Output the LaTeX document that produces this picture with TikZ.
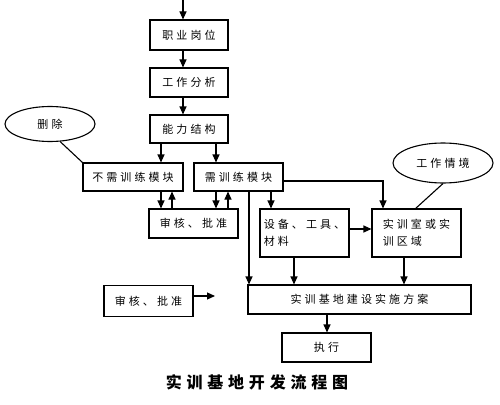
\documentclass[tikz,border=0pt]{standalone}
\usepackage{fontspec}
\newfontfamily\cjk[LetterSpace=28]{Noto Sans CJK SC}
\newfontfamily\cjkcap[LetterSpace=30]{Noto Sans CJK SC}
\usetikzlibrary{arrows.meta,shapes.geometric}
\begin{document}
\begin{tikzpicture}[x=1pt,y=-1pt,
  line width=1.1pt,
  box/.style={draw,rectangle,inner sep=0pt,font=\cjk\fontsize{11}{17}\selectfont,align=left},
  oval/.style={draw,ellipse,inner sep=0pt,font=\cjk\fontsize{11}{14}\selectfont},
  arr/.style={-{Triangle[length=8pt,width=7pt]}},
  ]
\useasboundingbox (0,0) rectangle (500,404);
% boxes
\node[box,minimum width=78pt,minimum height=30pt] (job) at (189,35) {职业岗位};
\node[box,minimum width=78pt,minimum height=29pt] (work) at (189,82.5) {工作分析};
\node[box,minimum width=78pt,minimum height=28pt] (abil) at (189,129) {能力结构};
\node[box,minimum width=100pt,minimum height=28pt] (noneed) at (133,177) {不需训练模块};
\node[box,minimum width=89pt,minimum height=28pt] (need) at (238.5,177) {需训练模块};
\node[box,minimum width=89pt,minimum height=29pt] (appr1) at (193.5,223.5) {审核、批准};
\node[box,minimum width=89pt,minimum height=48pt] (equip) at (304.5,233) {设备、工具、\\材料};
\node[box,minimum width=89pt,minimum height=48pt] (room) at (416.5,233) {实训室或实\\训区域};
\node[box,minimum width=223pt,minimum height=29pt] (plan) at (359.5,299.5) {实训基地建设实施方案};
\node[box,minimum width=89pt,minimum height=29pt] (exec) at (326.5,347.5) {执行};
\node[box,minimum width=89pt,minimum height=31pt] (appr2) at (148.5,301) {审核、批准};
\node[oval,minimum width=90pt,minimum height=35pt] (del) at (50,124) {删除};
\node[oval,minimum width=100pt,minimum height=40pt] (ctx) at (443,163) {工作情境};
\node[font=\cjkcap\bfseries\fontsize{16}{18}\selectfont] (cap) at (257,382) {实训基地开发流程图};
% coordinates
\coordinate (top) at (183,0);
\coordinate (a1) at (183,0);
\coordinate (a2) at (161,0);
\coordinate (a3) at (216,0);
\coordinate (a4) at (172,0);
\coordinate (a5) at (228,0);
\coordinate (a6) at (383,0);
\coordinate (a7) at (271,0);
\coordinate (a8) at (249,0);
\coordinate (a9) at (294,0);
\coordinate (a10) at (404,0);
\coordinate (a11) at (327,0);
\coordinate (free) at (215,296);
\coordinate (y1) at (0,181);
\coordinate (y2) at (0,229);
\coordinate (y3) at (0,296);
% arrows
\draw[arr] (top) -- (job.north -| a1);
\draw[arr] (job.south -| a1) -- (work.north -| a1);
\draw[arr] (work.south -| a1) -- (abil.north -| a1);
\draw[arr] (abil.south -| a2) -- (noneed.north -| a2);
\draw[arr] (abil.south -| a3) -- (need.north -| a3);
\draw[arr] (noneed.south -| a2) -- (appr1.north -| a2);
\draw[arr] (appr1.north -| a4) -- (noneed.south -| a4);
\draw[arr] (need.south -| a3) -- (appr1.north -| a3);
\draw[arr] (appr1.north -| a5) -- (need.south -| a5);
\draw[arr] (need.east |- y1) -- (y1 -| a6) -- (room.north -| a6);
\draw[arr] (need.south -| a7) -- (equip.north -| a7);
\draw[arr] (need.south -| a8) -- (plan.north -| a8);
\draw[arr] (equip.east |- y2) -- (room.west |- y2);
\draw[arr] (equip.south -| a9) -- (plan.north -| a9);
\draw[arr] (room.south -| a10) -- (plan.north -| a10);
\draw[arr] (plan.south -| a11) -- (exec.north -| a11);
\draw[arr] (appr2.east |- y3) -- (free);
% plain lines
\draw (del.-60) -- (noneed.north west);
\draw (ctx.-90) -- (415,209) coordinate (ctxend);
\end{tikzpicture}
\end{document}
